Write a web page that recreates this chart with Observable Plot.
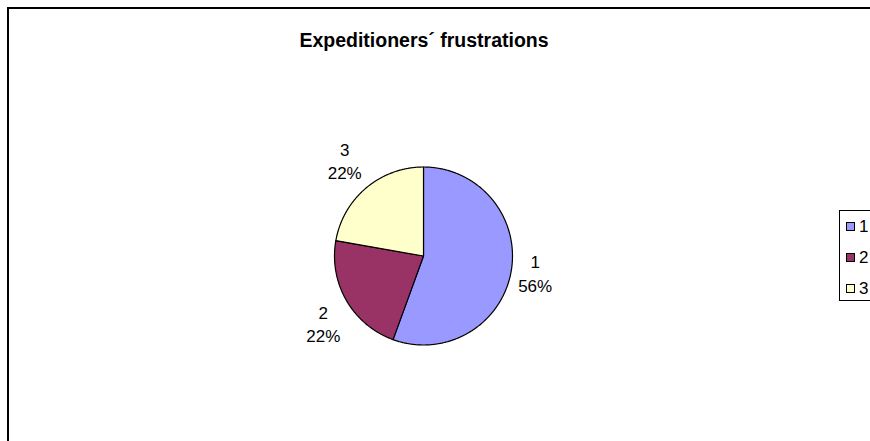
<!DOCTYPE html>
<html>
<head>
<meta charset="utf-8">
<script src="https://cdn.jsdelivr.net/npm/d3@7"></script>
<script src="https://cdn.jsdelivr.net/npm/@observablehq/plot@0.6"></script>
<style>
  html, body { margin: 0; padding: 0; background: #fff; overflow: hidden; }
  #wrap { position: relative; width: 870px; height: 441px; overflow: hidden; font-family: "Liberation Sans", Arial, sans-serif; }
  #frame { position: absolute; left: 7px; top: 7px; width: 1000px; height: 1000px; border: 2px solid #000; box-sizing: border-box; }
  #title { position: absolute; left: 0; width: 848px; top: 29px; text-align: center; font-weight: bold; font-size: 19.5px; color: #000; }
  #chart { position: absolute; left: 0; top: 0; }
  #legend { position: absolute; left: 839px; top: 210px; width: 80px; height: 91px; border: 1px solid #000; box-sizing: border-box; background: #fff; }
  .li { position: absolute; left: 6px; font-size: 17px; line-height: 17px; color: #000; white-space: nowrap; }
  .sw { display: inline-block; width: 7px; height: 7px; border: 1px solid #000; vertical-align: middle; margin-right: 4px; position: relative; top: -1px; }
</style>
</head>
<body>
<div id="wrap">
  <div id="frame"></div>
  <div id="title"></div>
  <div id="chart"></div>
  <div id="legend"></div>
</div>
<script>
const titleText = "Expeditioners´ frustrations";
const categories = ["1", "2", "3"];
const values = [5, 2, 2];
const colors = ["#9999FF", "#993366", "#FFFFCC"];

document.getElementById("title").textContent = titleText;

const total = d3.sum(values);
const pie = d3.pie().sort(null).value(d => d.value)(
  categories.map((c, i) => ({cat: c, value: values[i]}))
);

// slice outlines in unit-circle data coordinates (angle 0 at 12 o'clock, clockwise)
const pts = [];
pie.forEach(p => {
  pts.push({cat: p.data.cat, x: 0, y: 0});
  const n = Math.max(2, Math.ceil((p.endAngle - p.startAngle) / (Math.PI / 360)));
  for (let k = 0; k <= n; k++) {
    const a = p.startAngle + (p.endAngle - p.startAngle) * k / n;
    pts.push({cat: p.data.cat, x: Math.sin(a), y: Math.cos(a)});
  }
  pts.push({cat: p.data.cat, x: 0, y: 0});
});

const labels = pie.map(p => {
  const a = (p.startAngle + p.endAngle) / 2;
  const s = Math.sin(a), c = Math.cos(a);
  return {
    cat: p.data.cat,
    text: p.data.cat + "\n" + Math.round(p.data.value / total * 100) + "%",
    x: 1.08 * s, y: 1.08 * c,
    side: s >= 0 ? "right" : "left",
    v: Math.abs(c) < 0.34 ? "middle" : (c > 0 ? "bottom" : "top")
  };
});

const labelMarks = [];
for (const side of ["left", "right"]) {
  for (const v of ["top", "middle", "bottom"]) {
    labelMarks.push(Plot.text(labels.filter(d => d.side === side && d.v === v), {
      x: "x", y: "y", text: "text",
      textAnchor: "middle",
      lineAnchor: v,
      lineHeight: 1.38,
      dx: side === "right" ? 17 : -17,
      dy: v === "top" ? -2 : v === "bottom" ? -3 : 0,
      fontSize: 17,
      fill: "#000"
    }));
  }
}

const chart = Plot.plot({
  width: 870,
  height: 441,
  marginLeft: 334,
  marginRight: 358,
  marginTop: 166.5,
  marginBottom: 96.5,
  x: {domain: [-1, 1], axis: null},
  y: {domain: [-1, 1], axis: null},
  color: {domain: categories, range: colors},
  style: {background: "transparent", overflow: "visible", fontFamily: "'Liberation Sans', Arial, sans-serif"},
  marks: [
    Plot.line(pts, {x: "x", y: "y", z: "cat", fill: "cat", stroke: "#000", strokeWidth: 1.2, curve: "linear"}),
    ...labelMarks
  ]
});
document.getElementById("chart").appendChild(chart);

const legend = document.getElementById("legend");
categories.forEach((c, i) => {
  const row = document.createElement("div");
  row.className = "li";
  row.style.top = (7 + i * 31) + "px";
  const sw = document.createElement("span");
  sw.className = "sw";
  sw.style.background = colors[i];
  row.appendChild(sw);
  row.appendChild(document.createTextNode(c));
  legend.appendChild(row);
});
</script>
</body>
</html>
